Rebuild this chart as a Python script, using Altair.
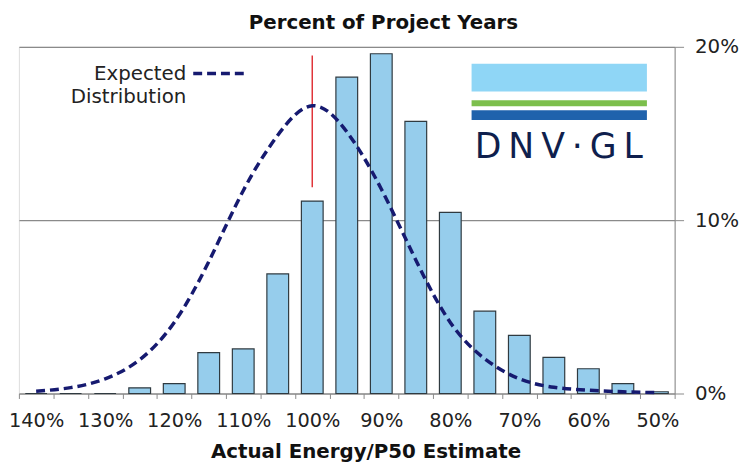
import altair as alt
import pandas as pd

# Category bins (Actual Energy / P50 estimate, %)
categories = [50, 55, 60, 65, 70, 75, 80, 85, 90, 95, 100, 105, 110, 115, 120, 125, 130, 135, 140]
# Observed percent of project years per bin
observed = [0.1, 0.57, 1.43, 2.08, 3.35, 4.75, 10.45, 15.7, 19.6, 18.25, 11.1, 6.9, 2.57, 2.36, 0.57, 0.33, 0.0, 0.0, 0.0]
# Expected distribution
expected = [0.05, 0.1, 0.19, 0.36, 0.85, 2.0, 4.1, 7.7, 11.8, 15.1, 16.6, 14.9, 11.7, 7.6, 4.1, 1.95, 0.85, 0.34, 0.13]
# P50 marker
p50_cat = [100]
p50_low = [11.9]
p50_high = [19.5]

title_text = "Percent of Project Years"
x_title = "Actual Energy/P50 Estimate"
legend_lines = ["Expected", "Distribution"]
logo_label = "D\u2009N\u2009V\u2009·\u2009G\u2009L"

df = pd.DataFrame({"cat": categories, "obs": observed, "exp": expected})
df_p50 = pd.DataFrame({"cat": p50_cat, "lo": p50_low, "hi": p50_high})

FONT = "DejaVu Sans"
GRID = "#8a8a8a"

xenc = alt.X(
    "cat:O",
    sort="descending",
    scale=alt.Scale(paddingInner=0, paddingOuter=0),
    axis=alt.Axis(
        title=x_title,
        titleFont=FONT, titleFontSize=20, titleFontWeight="bold", titleColor="#111",
        titleX=350, titleY=65, titleBaseline="alphabetic", titleAlign="center",
        labelExpr="datum.value % 10 == 0 ? datum.value + '%' : ''",
        labelAngle=0, labelFont=FONT, labelFontSize=19.5, labelColor="#222",
        labelBaseline="alphabetic", labelPadding=28, labelOverlap=False,
        tickBand="extent", tickSize=5, tickColor=GRID, domainColor=GRID,
        grid=False,
    ),
)
yenc = alt.Y(
    "obs:Q",
    scale=alt.Scale(domain=[0, 20], nice=False),
    axis=alt.Axis(
        orient="right", values=[0, 10, 20], title=None,
        labelExpr="datum.value + '%'", labelFont=FONT, labelFontSize=20, labelColor="#222",
        labelPadding=11, tickSize=9, tickColor=GRID, domainColor=GRID,
        grid=True, gridColor=GRID, gridWidth=1.2,
    ),
)

bars = alt.Chart(df).mark_bar(
    width=alt.RelativeBandSize(0.63), fill="#96CDEC", stroke="#2f3a40", strokeWidth=1.2
).encode(x=xenc, y=yenc)

rule = alt.Chart(df_p50).mark_rule(color="#e0353a", strokeWidth=1.5).encode(
    x=alt.X("cat:O", sort="descending"), y="lo:Q", y2="hi:Q"
)

curve = alt.Chart(df).mark_line(
    color="#161a70", strokeWidth=3.5, strokeDash=[9, 5], interpolate="natural", strokeCap="butt"
).encode(x=alt.X("cat:O", sort="descending"), y="exp:Q")

one = pd.DataFrame({"k": [0]})

# Chart title (as annotation text above the plot)
title = alt.Chart(one).mark_text(
    text=title_text, font=FONT, fontSize=20, fontWeight="bold", align="center",
    baseline="alphabetic", color="#111"
).encode(x=alt.value(368), y=alt.value(-18))

# Legend (drawn as annotation)
leg_line = alt.Chart(one).mark_rule(
    color="#161a70", strokeWidth=3.5, strokeDash=[9, 5], strokeCap="butt"
).encode(x=alt.value(176), x2=alt.value(231), y=alt.value(27))
leg_text1 = alt.Chart(one).mark_text(
    text=legend_lines[0], font=FONT, fontSize=20, align="right", baseline="middle", color="#222"
).encode(x=alt.value(169), y=alt.value(28))
leg_text2 = alt.Chart(one).mark_text(
    text=legend_lines[1], font=FONT, fontSize=20, align="right", baseline="middle", color="#222"
).encode(x=alt.value(169), y=alt.value(51))

# DNV-GL logo
logo1 = alt.Chart(one).mark_rect(color="#8fd6f6").encode(
    x=alt.value(457), x2=alt.value(634), y=alt.value(17), y2=alt.value(45))
logo2 = alt.Chart(one).mark_rect(color="#7cbf4c").encode(
    x=alt.value(457), x2=alt.value(634), y=alt.value(54), y2=alt.value(60))
logo3 = alt.Chart(one).mark_rect(color="#1f62ac").encode(
    x=alt.value(457), x2=alt.value(634), y=alt.value(64), y2=alt.value(74))
logo_text = alt.Chart(one).mark_text(
    text=logo_label, font=FONT, fontSize=35, align="center", baseline="alphabetic", color="#0f1f4d"
).encode(x=alt.value(545), y=alt.value(112))

chart = alt.layer(
    bars, rule, curve, title, leg_line, leg_text1, leg_text2, logo1, logo2, logo3, logo_text
).properties(
    width=662,
    height=350,
    autosize=alt.AutoSizeParams(type="none"),
    padding={"left": 11, "top": 37, "right": 68, "bottom": 72},
).configure_view(stroke=GRID, strokeWidth=1.2).configure(background="white")

chart.save("out.html", embed_options={"renderer": "svg", "actions": False})
